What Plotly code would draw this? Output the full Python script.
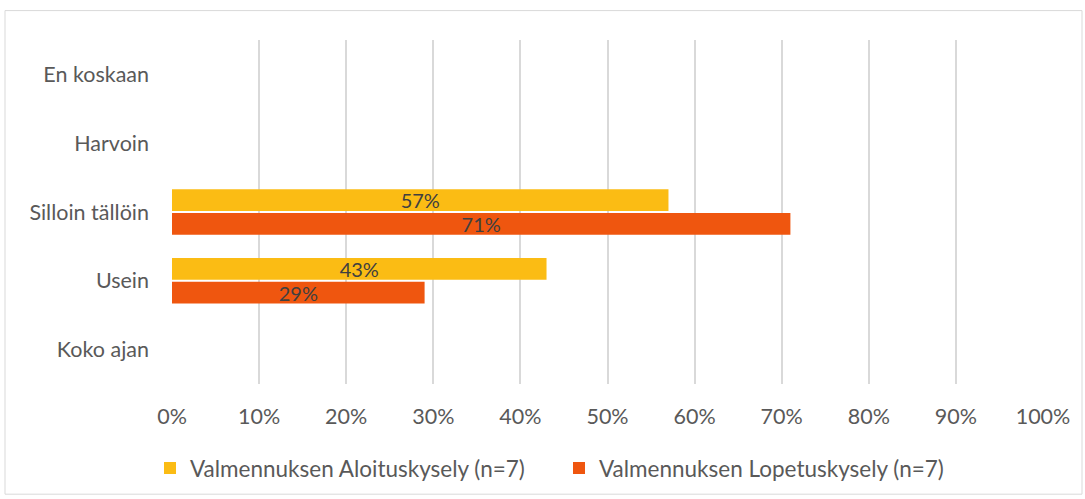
import plotly.graph_objects as go

categories = ["En koskaan", "Harvoin", "Silloin tällöin", "Usein", "Koko ajan"]
aloitus = [0, 0, 57, 43, 0]
lopetus = [0, 0, 71, 29, 0]
series_names = ["Valmennuksen Aloituskysely (n=7)", "Valmennuksen Lopetuskysely (n=7)"]

def labels(vals):
    return [f"{v}%" if v else "" for v in vals]

W, H = 1085, 499
L, R, T, B = 172, 42, 39.5, 114.5
pw, ph = W - L - R, H - T - B

fig = go.Figure()
fig.add_trace(go.Bar(y=categories, x=aloitus, orientation="h", name=series_names[0],
                     marker=dict(color="#FBBC14", line=dict(width=0)),
                     text=labels(aloitus), textposition="inside", insidetextanchor="middle",
                     constraintext="none",
                     textfont=dict(color="#404040", size=20), cliponaxis=False))
fig.add_trace(go.Bar(y=categories, x=lopetus, orientation="h", name=series_names[1],
                     marker=dict(color="#EF560F", line=dict(width=0)),
                     text=labels(lopetus), textposition="inside", insidetextanchor="middle",
                     constraintext="none",
                     textfont=dict(color="#404040", size=20), cliponaxis=False))

fig.update_layout(
    width=W, height=H,
    margin=dict(l=L, r=R, t=T, b=B, autoexpand=False),
    paper_bgcolor="white", plot_bgcolor="white",
    font=dict(family="Lato, Open Sans, sans-serif", size=21.5, color="#595959"),
    barmode="group", bargap=0.31, bargroupgap=0.08,
    showlegend=True,
    legend=dict(orientation="h", x=(150 - L) / pw, xanchor="left",
                y=(T + ph - 469) / ph, yanchor="middle",
                entrywidth=364, entrywidthmode="pixels",
                font=dict(size=22.5, color="#595959"), itemwidth=30),
)
fig.update_xaxes(range=[0, 100], dtick=10, ticksuffix="%", showgrid=True,
                 gridcolor="#D9D9D9", gridwidth=1.5, zeroline=False,
                 showline=False, ticks="", ticklabelstandoff=17, fixedrange=True)
fig.update_yaxes(categoryorder="array", categoryarray=categories, autorange="reversed",
                 showgrid=False, showline=False, ticks="", ticklabelstandoff=22,
                 zeroline=False, fixedrange=True)

fig.add_shape(type="rect", xref="paper", yref="paper",
              x0=(5 - L) / pw, x1=(1082 - L) / pw,
              y0=(T + ph - 495) / ph, y1=(T + ph - 10) / ph,
              line=dict(color="#D9D9D9", width=1), fillcolor="rgba(0,0,0,0)", layer="below")

fig.write_html("out.html", config={"displayModeBar": False},
               post_script="document.body.style.margin='0px';")
